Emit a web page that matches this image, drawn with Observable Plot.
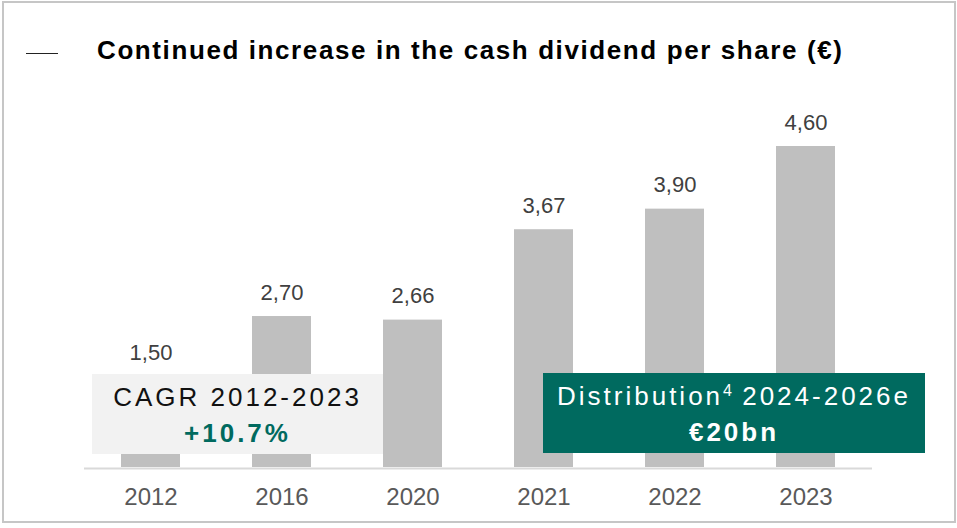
<!DOCTYPE html>
<html>
<head>
<meta charset="utf-8">
<script src="https://cdn.jsdelivr.net/npm/d3@7"></script>
<script src="https://cdn.jsdelivr.net/npm/@observablehq/plot@0.6"></script>
<style>
  html, body { margin: 0; padding: 0; background: #fff; }
  body { font-family: "Liberation Sans", Arial, sans-serif; }
  #wrap { position: relative; width: 957px; height: 528px; overflow: hidden; }
  #frame { position: absolute; left: 2px; top: 1px; width: 954px; height: 522px; box-sizing: border-box; border: 2px solid #c6c6c6; pointer-events: none; }
  #dash { position: absolute; left: 26px; top: 53px; width: 32px; height: 1.3px; background: #222; }
  #title { position: absolute; left: 97px; top: 37px; font-size: 26px; line-height: 26px; letter-spacing: 1.6px; font-weight: bold; color: #000; white-space: nowrap; }
  #chart { position: absolute; left: 0; top: 0; }
  .box { position: absolute; height: 80px; text-align: center; font-size: 26px; letter-spacing: 3px; white-space: nowrap; }
  .box .inner { padding-top: 5px; line-height: 36px; }
  #cagr { left: 92px; top: 374px; width: 291px; background: #f2f2f2; color: #111; }
  #cagr b { color: #006a5f; }
  #dist { left: 543px; top: 373px; width: 382px; background: #006a5f; color: #fff; }
  sup { font-size: 16px; vertical-align: 9px; line-height: 0; letter-spacing: 0; }
</style>
</head>
<body>
<div id="wrap">
  <div id="chart"></div>
  <div id="dash"></div>
  <div id="title">Continued increase in the cash dividend per share (€)</div>
  <div class="box" id="cagr"><div class="inner">CAGR 2012-2023<br><b>+10.7%</b></div></div>
  <div class="box" id="dist"><div class="inner">Distribution<sup>4</sup> 2024-2026e<br><b>€20bn</b></div></div>
  <div id="frame"></div>
</div>
<script>
const years = ["2012", "2016", "2020", "2021", "2022", "2023"];
const dividends = [1.50, 2.70, 2.66, 3.67, 3.90, 4.60];
const valueLabels = ["1,50", "2,70", "2,66", "3,67", "3,90", "4,60"];

const W = 957, H = 528;
const mTop = 146, mBottom = 61, mLeft = 84, mRight = 85;
const yMin = 1.013, yMax = 4.6;

const data = years.map((y, i) => ({year: y, value: dividends[i], label: valueLabels[i]}));

// labels hidden by the CAGR annotation box are lifted just above its top edge
const yLin = d3.scaleLinear().domain([yMin, yMax]).range([H - mBottom, mTop]);
const cagrTopValue = yLin.invert(376);
const labelY = (d, i) => i === 0 ? Math.max(d.value, cagrTopValue) : d.value;

const plot = Plot.plot({
  width: W,
  height: H,
  marginTop: mTop,
  marginBottom: mBottom,
  marginLeft: mLeft,
  marginRight: mRight,
  style: {fontFamily: '"Liberation Sans", Arial, sans-serif', background: "transparent"},
  x: {domain: years, paddingInner: 0.547, paddingOuter: 0.2735, align: 0.5},
  y: {domain: [yMin, yMax], axis: null},
  marks: [
    Plot.barY(data, {x: "year", y1: () => yMin, y2: "value", fill: "#bfbfbf"}),
    Plot.ruleY([yMin], {stroke: "#d9d9d9", strokeWidth: 2, dy: 1}),
    Plot.text(data, {x: "year", y: labelY, text: "label", lineAnchor: "bottom", dy: -17, fontSize: 22, fill: "#404040", style: "letter-spacing:1px"}),
    Plot.axisX({tickSize: 0, tickPadding: 20, fontSize: 24, fill: "#595959", label: null})
  ]
});
document.getElementById("chart").appendChild(plot);
</script>
</body>
</html>
